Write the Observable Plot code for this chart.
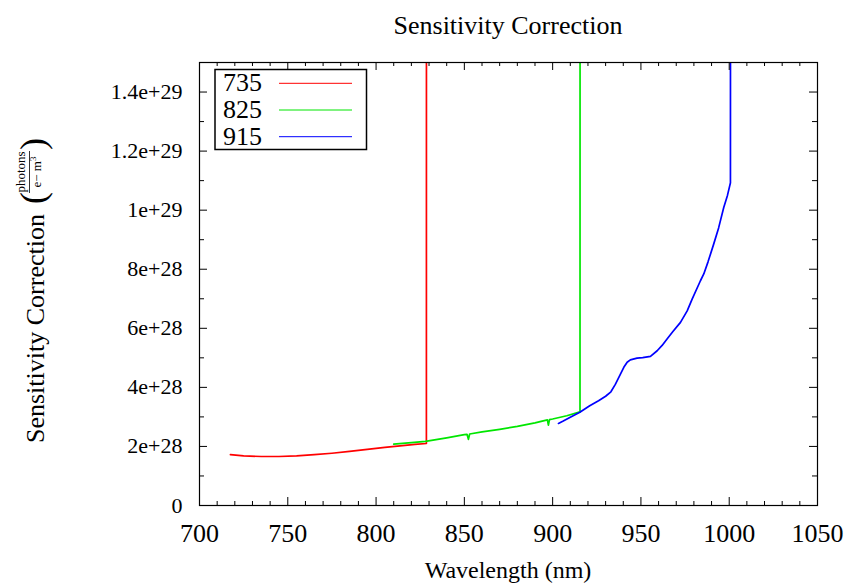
<!DOCTYPE html>
<html><head><meta charset="utf-8">
<script src="https://cdn.jsdelivr.net/npm/d3@7"></script>
<script src="https://cdn.jsdelivr.net/npm/@observablehq/plot@0.6"></script>
<style>body{margin:0;background:#fff} svg{display:block}</style>
</head><body><div id="chart"></div>
<script>
// ---- data ----
const seriesNames = ["735", "825", "915"];
const seriesColors = ["#ff0000", "#00e600", "#0000ff"];

const nm735  = [717.5, 725, 735, 745, 755, 765, 775, 785, 795, 805, 815, 822, 828.5, 828.6];
const val735 = [1.72e28, 1.68e28, 1.66e28, 1.66e28, 1.68e28, 1.72e28, 1.77e28, 1.83e28, 1.90e28, 1.97e28, 2.03e28, 2.07e28, 2.10e28, 5e29];

const nm825  = [810, 820, 828, 840, 850, 851.5, 852.3, 853, 860, 870, 880, 890, 897, 897.6, 898.2, 900, 908, 915.5, 915.6];
const val825 = [2.08e28, 2.13e28, 2.17e28, 2.29e28, 2.40e28, 2.41e28, 2.24e28, 2.42e28, 2.49e28, 2.58e28, 2.68e28, 2.80e28, 2.90e28, 2.72e28, 2.91e28, 2.93e28, 3.04e28, 3.17e28, 5e29];

const nm915  = [903.3, 906, 910, 915.4, 921, 926, 930, 933, 935.5, 938.4, 940.3, 942.2, 944, 947.8, 951, 955.4, 959.2, 962, 964.8, 968, 972.4, 976.2, 979, 983.7, 985.6, 988, 991.2, 994, 996.9, 999, 1000.7, 1000.8];
const val915 = [2.78e28, 2.86e28, 2.99e28, 3.16e28, 3.38e28, 3.55e28, 3.70e28, 3.85e28, 4.10e28, 4.45e28, 4.68e28, 4.85e28, 4.93e28, 4.99e28, 5.01e28, 5.05e28, 5.24e28, 5.42e28, 5.64e28, 5.88e28, 6.20e28, 6.59e28, 6.99e28, 7.61e28, 7.84e28, 8.25e28, 8.85e28, 9.40e28, 10.09e28, 10.5e28, 10.93e28, 5e29];

const xTickValues = [700, 750, 800, 850, 900, 950, 1000, 1050];
const xTickLabels = ["700", "750", "800", "850", "900", "950", "1000", "1050"];
const xMinorValues = [710,720,730,740,760,770,780,790,810,820,830,840,860,870,880,890,910,920,930,940,960,970,980,990,1010,1020,1030,1040];
const yTickValues = [0, 2e28, 4e28, 6e28, 8e28, 1e29, 1.2e29, 1.4e29];
const yTickLabels = ["0", "2e+28", "4e+28", "6e+28", "8e+28", "1e+29", "1.2e+29", "1.4e+29"];
const yMinorValues = [1e28, 3e28, 5e28, 7e28, 9e28, 1.1e29, 1.3e29, 1.5e29];

const titleText = "Sensitivity Correction";
const xLabelText = "Wavelength (nm)";
const yLabelText = "Sensitivity Correction";

// ---- build table ----
const table = [];
[[nm735, val735], [nm825, val825], [nm915, val915]].forEach(([xs, ys], k) => {
  xs.forEach((x, i) => table.push({series: seriesNames[k], nm: x, val: ys[i]}));
});

const W = 852, H = 588, mL = 199, mR = 35, mT = 62, mB = 83;
const fw = W - mL - mR, fh = H - mT - mB;
const font = '"Liberation Serif","DejaVu Serif","Times New Roman",serif';

const plot = Plot.plot({
  width: W, height: H,
  marginLeft: mL, marginRight: mR, marginTop: mT, marginBottom: mB,
  style: {fontFamily: font, background: "#fff", color: "#000"},
  x: {domain: [700, 1050]},
  y: {domain: [0, 1.5e29]},
  color: {domain: seriesNames, range: seriesColors},
  marks: [
    Plot.line(table, {x: "nm", y: "val", z: "series", stroke: "series", strokeWidth: 1.7, clip: true}),
    // inward ticks, bottom & top
    Plot.tickX(xTickValues, {x: d => d, insetTop: fh - 8, stroke: "#000"}),
    Plot.tickX(xMinorValues, {x: d => d, insetTop: fh - 4, stroke: "#000"}),
    Plot.tickX(xTickValues, {x: d => d, insetBottom: fh - 8, stroke: "#000"}),
    Plot.tickX(xMinorValues, {x: d => d, insetBottom: fh - 4, stroke: "#000"}),
    // inward ticks, left & right
    Plot.tickY(yTickValues, {y: d => d, insetRight: fw - 8, stroke: "#000"}),
    Plot.tickY(yMinorValues, {y: d => d, insetRight: fw - 5, stroke: "#000"}),
    Plot.tickY(yTickValues, {y: d => d, insetLeft: fw - 8, stroke: "#000"}),
    Plot.tickY(yMinorValues, {y: d => d, insetLeft: fw - 5, stroke: "#000"}),
    Plot.frame({stroke: "#000", strokeWidth: 1.2}),
    Plot.axisX({ticks: xTickValues, tickFormat: d => xTickLabels[xTickValues.indexOf(d)],
      tickSize: 0, tickPadding: 18, fontSize: 26, label: null, fill: "#000"}),
    Plot.axisY({ticks: yTickValues, tickFormat: d => yTickLabels[yTickValues.indexOf(d)],
      tickSize: 0, tickPadding: 17, fontSize: 22, label: null, fill: "#000"})
  ]
});

document.getElementById("chart").appendChild(plot);

// ---- texts and legend ----
const svg = d3.select(plot);
const g = svg.append("g").attr("font-family", font).attr("fill", "#000").attr("text-anchor", "start");

g.append("text").attr("x", mL + fw / 2).attr("y", 34).attr("text-anchor", "middle")
  .attr("font-size", 26).text(titleText);
g.append("text").attr("x", mL + fw / 2).attr("y", 578).attr("text-anchor", "middle")
  .attr("font-size", 24).text(xLabelText);

// y label with fraction
const yl = g.append("g").attr("transform", "translate(44,293) rotate(-90)");
yl.append("text").attr("x", -150).attr("y", 0).attr("font-size", 26).attr("text-anchor", "start").text(yLabelText);
yl.append("text").attr("x", 89).attr("y", 1).attr("font-size", 36).attr("text-anchor", "start").text("(");
yl.append("text").attr("x", 121).attr("y", -19).attr("font-size", 13).attr("text-anchor", "middle").text("photons");
yl.append("line").attr("x1", 100).attr("x2", 142).attr("y1", -14.5).attr("y2", -14.5).attr("stroke", "#000").attr("stroke-width", 0.8);
const den = yl.append("text").attr("x", 121).attr("y", -3).attr("font-size", 13).attr("text-anchor", "middle");
den.append("tspan").text("e\u2212 m");
den.append("tspan").attr("font-size", 9).attr("dy", -5).text("3");
yl.append("text").attr("x", 143).attr("y", 1).attr("font-size", 36).attr("text-anchor", "start").text(")");

// legend
const lg = g.append("g");
lg.append("rect").attr("x", 215).attr("y", 69.5).attr("width", 151.5).attr("height", 80)
  .attr("fill", "#fff").attr("stroke", "#000").attr("stroke-width", 1.5);
seriesNames.forEach((s, i) => {
  const cy = 83.3 + i * 26.7;
  lg.append("text").attr("x", 223).attr("y", cy + 8).attr("font-size", 26).attr("text-anchor", "start").text(s);
  lg.append("line").attr("x1", 279).attr("x2", 352).attr("y1", cy).attr("y2", cy)
    .attr("stroke", seriesColors[i]).attr("stroke-width", 1);
});
</script></body></html>
